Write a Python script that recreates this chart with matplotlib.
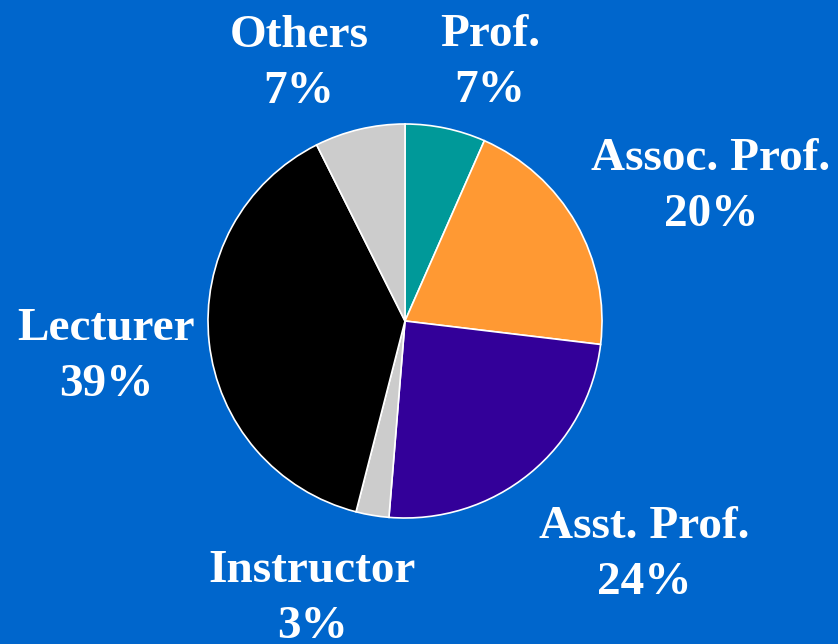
import matplotlib.pyplot as plt

bg_color = "#0066CC"

categories = ["Prof.", "Assoc. Prof.", "Asst. Prof.", "Instructor", "Lecturer", "Others"]
shares = [6.6, 20.3, 24.4, 2.7, 38.6, 7.4]
colors = ["#009999", "#FF9933", "#330099", "#CCCCCC", "#000000", "#CCCCCC"]

# label block centres in pixels (x, y from top)
label_pos = [(490, 63), (711, 187), (644, 555), (312, 599), (106, 357), (299, 64)]

W, H = 838, 644
cx, cy, R = 405, 321, 197

plt.rc('font', family='Liberation Serif', weight='bold')

fig = plt.figure(figsize=(W / 100, H / 100), dpi=100)
fig.patch.set_facecolor(bg_color)
ax = fig.add_axes([0, 0, 1, 1])
ax.set_facecolor(bg_color)

ax.pie(shares, colors=colors, startangle=90, counterclock=False,
       radius=1, center=(0, 0),
       wedgeprops={'edgecolor': 'white', 'linewidth': 1.2})

ax.set_xlim(-cx / R, (W - cx) / R)
ax.set_ylim(-(H - cy) / R, cy / R)
ax.set_aspect('equal')
ax.axis('off')


def px(x, y):
    return (x - cx) / R, (cy - y) / R


for name, v, (lx, ly) in zip(categories, shares, label_pos):
    tx, ty = px(lx, ly)
    ax.text(tx, ty, f"{name}\n{v:.0f}%", color='white', fontsize=34,
            ha='center', va='center', ma='center', linespacing=1.42)

fig.savefig("out.png", dpi=100, facecolor=bg_color)
